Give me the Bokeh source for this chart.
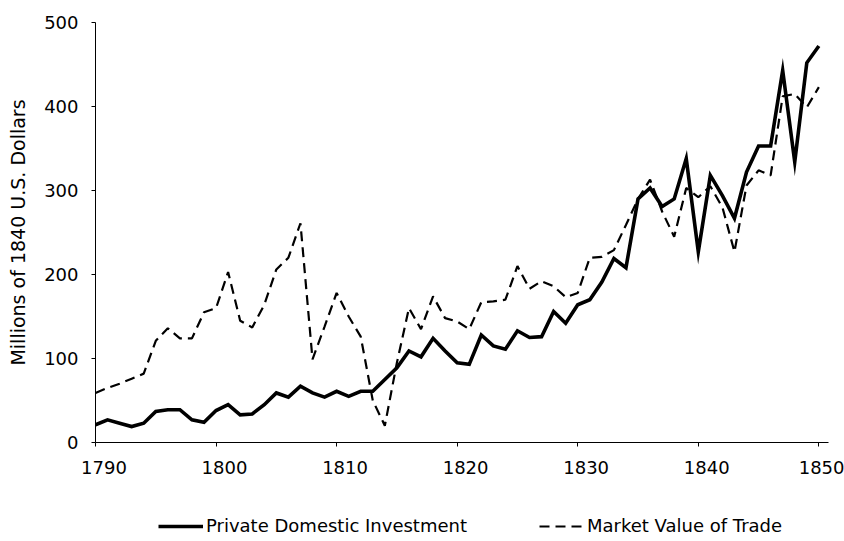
from bokeh.plotting import figure
from bokeh.layouts import column
from bokeh.models import Range1d, FixedTicker, Legend, LegendItem
from bokeh.embed import file_html
from bokeh.resources import INLINE

years = list(range(1790, 1851))

private_domestic_investment = [
    21, 27, 23, 19, 23, 37, 39, 39, 27, 24,
    38, 45, 33, 34, 45, 59, 54, 67, 59, 54,
    61, 55, 61, 61, 75, 89, 109, 102, 124, 109,
    95, 93, 128, 115, 111, 133, 125, 126, 156, 142,
    164, 170, 191, 219, 208, 290, 303, 281, 290, 338,
    227, 318, 294, 267, 322, 353, 353, 443, 334, 452,
    472,
]

market_value_of_trade = [
    59, 65, 70, 76, 82, 121, 136, 124, 124, 155,
    160, 203, 145, 137, 164, 206, 220, 261, 99, 138,
    178, 150, 126, 50, 20, 95, 160, 135, 174, 148,
    144, 135, 167, 168, 170, 210, 183, 192, 186, 173,
    178, 220, 221, 229, 259, 290, 313, 275, 245, 303,
    292, 305, 280, 227, 306, 324, 318, 412, 415, 399,
    423,
]

x_ticks = [1790, 1800, 1810, 1820, 1830, 1840, 1850]
y_ticks = [0, 100, 200, 300, 400, 500]

series_names = ["Private Domestic Investment", "Market Value of Trade"]
y_label = "Millions of 1840 U.S. Dollars"

FONT = "DejaVu Sans"
LABEL_SHIFT = 0.7  # tick labels sit slightly right of their tick marks

SOLID = dict(line_color="black", line_width=3.6, line_join="miter")
DASHED = dict(line_color="black", line_width=2.2, line_dash="10 6")

# ---------------- main chart ----------------
p = figure(
    width=844, height=500,
    output_backend="svg", toolbar_location=None,
    x_range=Range1d(1790, 1850.8), y_range=Range1d(0, 500),
    min_border_left=95, min_border_right=16,
    min_border_top=22, min_border_bottom=58,
)
p.outline_line_color = None
p.grid.visible = False
p.background_fill_color = "white"
p.border_fill_color = "white"

p.line(years, private_domestic_investment, **SOLID)
p.line(years, market_value_of_trade, **DASHED)

label_pos = [t + LABEL_SHIFT for t in x_ticks]
xa = p.xaxis[0]
xa.ticker = FixedTicker(ticks=label_pos, minor_ticks=x_ticks)
xa.major_label_overrides = {pos: str(t) for pos, t in zip(label_pos, x_ticks)}
xa.axis_line_color = "black"
xa.major_tick_line_color = None
xa.major_tick_out = 4
xa.major_tick_in = 0
xa.minor_tick_line_color = "black"
xa.minor_tick_out = 4
xa.minor_tick_in = 0
xa.major_label_text_font = FONT
xa.major_label_text_font_size = "18px"
xa.major_label_text_color = "black"
xa.major_label_standoff = 14

ya = p.yaxis[0]
ya.ticker = FixedTicker(ticks=y_ticks)
ya.major_tick_out = 4
ya.major_tick_in = 0
ya.minor_tick_out = 0
ya.minor_tick_in = 0
ya.axis_line_color = "black"
ya.major_tick_line_color = "black"
ya.major_label_text_font = FONT
ya.major_label_text_font_size = "18px"
ya.major_label_text_color = "black"
ya.major_label_standoff = 13
ya.axis_label = y_label
ya.axis_label_text_font = FONT
ya.axis_label_text_font_size = "19px"
ya.axis_label_text_font_style = "normal"
ya.axis_label_text_color = "black"
ya.axis_label_standoff = 12

# ---------------- legend strip ----------------
# (its frame is aligned with the chart's frame by the column layout)
lg = figure(
    width=844, height=41,
    output_backend="svg", toolbar_location=None,
    x_range=Range1d(0, 1), y_range=Range1d(0, 1),
    min_border_left=0, min_border_right=0,
    min_border_top=0, min_border_bottom=0,
    x_axis_location=None, y_axis_location=None,
)
lg.outline_line_color = None
lg.grid.visible = False
lg.background_fill_color = "white"
lg.border_fill_color = "white"

# proxies carrying the same styles; their data lie outside this strip's view
k1 = lg.line(years, private_domestic_investment, **SOLID)
k2 = lg.line(years, market_value_of_trade, **DASHED)

legend = Legend(
    items=[LegendItem(label=series_names[0], renderers=[k1]),
           LegendItem(label=series_names[1], renderers=[k2])],
    orientation="horizontal",
    location=(63, 5),
    label_text_font=FONT,
    label_text_font_size="18px",
    label_text_color="black",
    glyph_width=45, glyph_height=16,
    label_standoff=3, spacing=72,
    padding=0, margin=0,
    border_line_color=None,
    background_fill_alpha=0,
)
lg.add_layout(legend, "center")

layout = column(p, lg, spacing=0)
open("out.html", "w").write(file_html(layout, INLINE))
